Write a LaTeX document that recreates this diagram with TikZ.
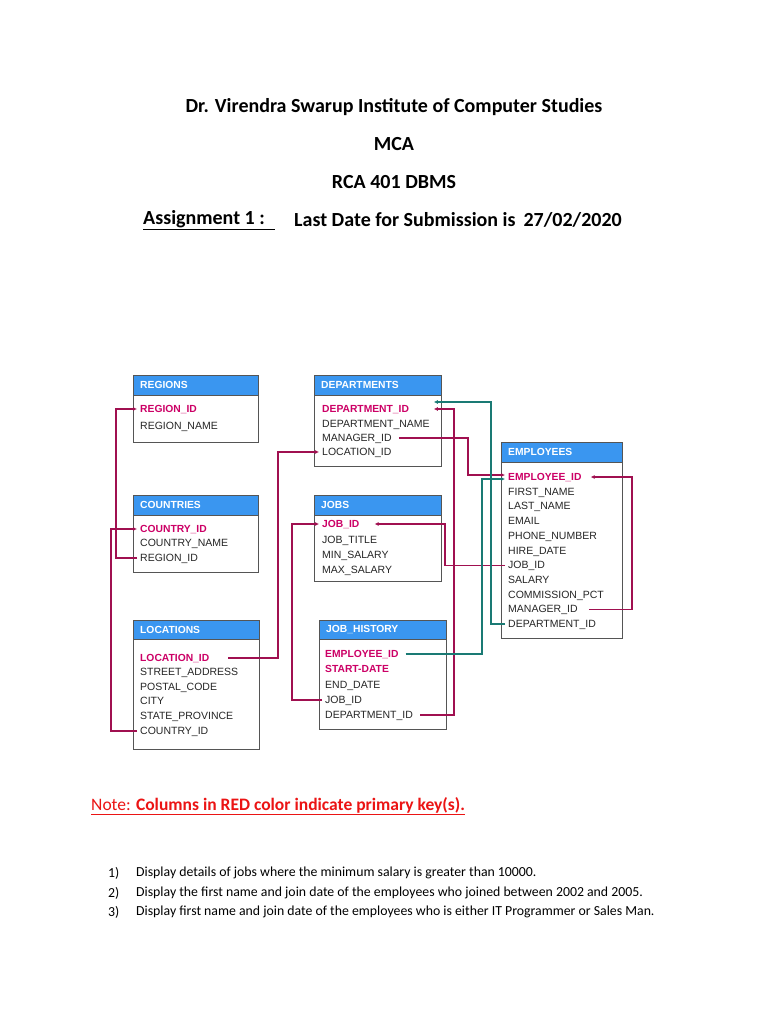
\documentclass[tikz,border=0pt]{standalone}
\usepackage{fontspec}
\setmainfont{Carlito}
\newfontfamily\tabfont{Liberation Sans}
\usetikzlibrary{arrows.meta,positioning,calc}
\definecolor{hdrblue}{RGB}{58,150,240}
\definecolor{keyred}{RGB}{204,0,102}
\definecolor{fkred}{RGB}{160,16,80}
\definecolor{fkteal}{RGB}{26,122,116}
\definecolor{rim}{RGB}{85,85,85}
\definecolor{notered}{RGB}{235,20,20}
\tikzset{
  hdr/.style={draw=rim,fill=hdrblue,text=white,anchor=north west,inner xsep=7pt,
    minimum height=20pt,align=left,font=\tabfont\bfseries\fontsize{10.3}{11}\selectfont},
  tbox/.style={draw=rim,line width=.8pt,anchor=north west},
  col/.style={anchor=west,inner xsep=3pt,inner ysep=0pt,text height=7pt,text depth=0pt,
    text=black!85,font=\tabfont\fontsize{10.5}{11}\selectfont},
  pk/.style={col,text=keyred,font=\tabfont\bfseries\fontsize{10.3}{11}\selectfont},
  fk/.style={draw=fkred,line width=1.3pt,-{Latex[length=4pt,width=4pt]}},
  fkt/.style={fk,draw=fkteal},
  cim/.style={font=\bfseries\fontsize{20}{24}\selectfont},
  kerdes/.style={anchor=west,font=\fontsize{13.8}{16}\selectfont},
}
\begin{document}
\begin{tikzpicture}[x=1pt,y=-1pt]
  \fill[white] (0,0) rectangle (768,1024);
  \useasboundingbox (0,0) rectangle (768,1024);
  % headings
  \node[cim] (inst) at (394,107) {Dr. Virendra Swarup Institute of Computer Studies};
  \node[cim] (mca) at (394,144) {MCA};
  \node[cim] (subj) at (394,182) {RCA 401 DBMS};
  \node[cim,anchor=west,inner xsep=0pt] (asg) at (143,220) {\underline{Assignment 1 :\hspace{10pt}}};
  \node[cim,anchor=west,inner xsep=0pt] (due) at (294,220) {Last Date for Submission is \,27/02/2020};

  % tables
  \node[hdr,text width=111pt] (reghd) at (133,375) {REGIONS};
  \node[tbox,minimum width=125pt,minimum height=47pt] (regbox) at (133,395) {};
  \node[pk] (rid) at (137,409) {REGION\_ID};
  \node[col] (rname) at (137,426) {REGION\_NAME};

  \node[hdr,text width=113pt] (dephd) at (314,375) {DEPARTMENTS};
  \node[tbox,minimum width=127pt,minimum height=71pt] (depbox) at (314,395) {};
  \node[pk] (did) at (319,409) {DEPARTMENT\_ID};
  \node[col] (dname) at (319,424) {DEPARTMENT\_NAME};
  \node[col] (dmgr) at (319,438) {MANAGER\_ID};
  \node[col] (dloc) at (319,452) {LOCATION\_ID};

  \node[hdr,text width=111pt] (cnthd) at (133,495) {COUNTRIES};
  \node[tbox,minimum width=125pt,minimum height=57pt] (cntbox) at (133,515) {};
  \node[pk] (cid) at (137,529) {COUNTRY\_ID};
  \node[col] (cname) at (137,543) {COUNTRY\_NAME};
  \node[col] (cregion) at (137,558) {REGION\_ID};

  \node[hdr,text width=113pt] (jobhd) at (314,495) {JOBS};
  \node[tbox,minimum width=127pt,minimum height=66pt] (jobbox) at (314,515) {};
  \node[pk] (jid) at (319,524) {JOB\_ID};
  \node[col] (jtitle) at (319,540) {JOB\_TITLE};
  \node[col] (jmin) at (319,555) {MIN\_SALARY};
  \node[col] (jmax) at (319,570) {MAX\_SALARY};

  \node[hdr,text width=107pt] (emphd) at (501,442) {EMPLOYEES};
  \node[tbox,minimum width=121pt,minimum height=176pt] (empbox) at (501,462) {};
  \node[pk] (e1) at (505,477) {EMPLOYEE\_ID};
  \foreach \t [count=\i from 2] in {FIRST\_NAME,LAST\_NAME,EMAIL,PHONE\_NUMBER,HIRE\_DATE,
      JOB\_ID,SALARY,COMMISSION\_PCT,MANAGER\_ID,DEPARTMENT\_ID}
    \node[col] (e\i) at (505,{477+14.7*(\i-1)}) {\t};

  \node[hdr,text width=112pt,minimum height=19pt] (lochd) at (133,620) {LOCATIONS};
  \node[tbox,minimum width=126pt,minimum height=110pt] (locbox) at (133,639) {};
  \node[pk] (lid) at (137,658) {LOCATION\_ID};
  \node[col] (lstreet) at (137,672) {STREET\_ADDRESS};
  \node[col] (lpostal) at (137,687) {POSTAL\_CODE};
  \node[col] (lcity) at (137,701) {CITY};
  \node[col] (lstate) at (137,716) {STATE\_PROVINCE};
  \node[col] (lcountry) at (137,731) {COUNTRY\_ID};

  \node[hdr,text width=113pt,minimum height=19pt] (jhhd) at (319,620) {JOB\_HISTORY};
  \node[tbox,minimum width=127pt,minimum height=90pt] (jhbox) at (319,639) {};
  \node[pk] (jhemp) at (322,654) {EMPLOYEE\_ID};
  \node[pk] (jhstart) at (322,669) {START-DATE};
  \node[col] (jhend) at (322,685) {END\_DATE};
  \node[col] (jhjob) at (322,700) {JOB\_ID};
  \node[col] (jhdept) at (322,715) {DEPARTMENT\_ID};

  % bend columns
  \coordinate (c3) at (278,0);
  \coordinate (c5) at (454,0);
  \coordinate (c6) at (468,0);
  \coordinate (c8) at (482,0);
  \coordinate (c10) at (632,0);

  % foreign keys
  \draw[fk] (cregion.west) -- ++(-21,0) |- (rid.west);
  \draw[fk] (lcountry.west) -- ++(-26,0) |- (cid.west);
  \draw[fk] ([xshift=16pt]lid.east) -- (lid.east -| c3) |- (dloc.west);
  \draw[fk] (jhjob.west) -- ++(-30,0) |- (jid.west);
  \draw[fk] ([xshift=4pt]jhdept.east) -- (jhdept.east -| c5) |- ([xshift=-8pt]did.east -| depbox.east);
  \draw[fk] ([xshift=4pt]dmgr.east) -- (dmgr.east -| c6) |- ([yshift=2pt]e1.west);
  \draw[fk] (e7.west) -- ++(-60,0) |- ([xshift=12pt]jid.east);
  \draw[fk] ([xshift=8pt]e10.east) -- (e10.east -| c10) |- ([xshift=6pt]e1.east);
  \draw[fkt] (e11.west) -- ++(-14,0) |- ([xshift=-8pt,yshift=7pt]did.east -| depbox.east);
  \draw[fkt] ([xshift=4pt]jhemp.east) -- (jhemp.east -| c8) |- ([yshift=-2pt]e1.west);

  % note and questions
  \node[anchor=west,inner xsep=0pt,text=notered,font=\fontsize{17.5}{20}\selectfont] (note) at (91,806)
    {\underline{Note: \textbf{Columns in RED color indicate primary key(s).}}};
  \foreach \n/\q/\y in {1/{Display details of jobs where the minimum salary is greater than 10000.}/873,
      2/{Display the first name and join date of the employees who joined between 2002 and 2005.}/893,
      3/{Display first name and join date of the employees who is either IT Programmer or Sales Man.}/912}
  {
    \node[kerdes,inner xsep=0pt] (num\n) at (108,\y) {\n)};
    \node[kerdes,inner xsep=0pt] (q\n) at (136,\y) {\q};
  }
\end{tikzpicture}
\end{document}
